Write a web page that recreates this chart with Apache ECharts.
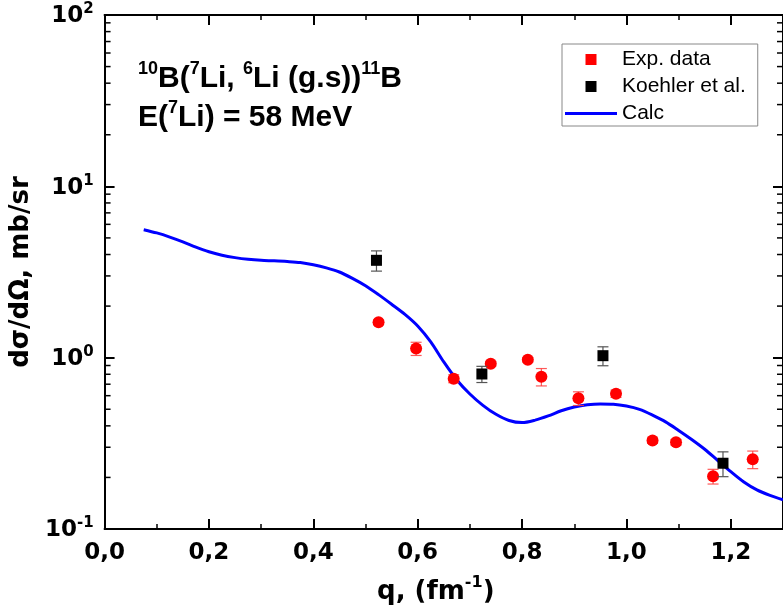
<!DOCTYPE html>
<html>
<head>
<meta charset="utf-8">
<script src="https://cdn.jsdelivr.net/npm/echarts@6/dist/echarts.min.js"></script>
<style>html,body{margin:0;padding:0;background:#fff;}#c{width:783px;height:613px;}</style>
</head>
<body>
<div id="c"></div>
<script>
// Exp. data (red circles)
const qExp = [0.525, 0.597, 0.669, 0.740, 0.811, 0.837, 0.908, 0.980, 1.050, 1.095, 1.166, 1.242];
const sigExp = [1.61, 1.13, 0.754, 0.922, 0.973, 0.774, 0.579, 0.616, 0.328, 0.321, 0.203, 0.255];
const errExp = [0.05, 0.10, 0.04, 0.03, 0.03, 0.09, 0.053, 0.03, 0.012, 0.012, 0.02, 0.03];
// Koehler et al. (black squares)
const qKoe = [0.521, 0.723, 0.955, 1.185];
const sigKoe = [3.70, 0.803, 1.027, 0.242];
const errKoe = [0.5, 0.087, 0.13, 0.04];
// Calc (blue line)
const qCalc = [0.075, 0.100, 0.125, 0.150, 0.175, 0.200, 0.225, 0.250, 0.275, 0.300, 0.325, 0.350, 0.375, 0.400,
  0.425, 0.450, 0.475, 0.500, 0.525, 0.550, 0.575, 0.600, 0.625, 0.650, 0.675, 0.700, 0.725, 0.750, 0.775, 0.800,
  0.825, 0.850, 0.875, 0.900, 0.925, 0.950, 0.975, 1.000, 1.025, 1.050, 1.075, 1.100, 1.125, 1.150, 1.175, 1.200,
  1.225, 1.250, 1.275, 1.300];
const sigCalc = [5.585, 5.346, 5.058, 4.742, 4.416, 4.150, 3.963, 3.837, 3.750, 3.698, 3.673, 3.639, 3.589, 3.483,
  3.342, 3.162, 2.904, 2.630, 2.333, 2.051, 1.795, 1.531, 1.236, 0.944, 0.741, 0.614, 0.527, 0.467, 0.430, 0.418,
  0.432, 0.457, 0.490, 0.515, 0.531, 0.537, 0.535, 0.522, 0.499, 0.462, 0.422, 0.376, 0.333, 0.292, 0.251, 0.216,
  0.188, 0.169, 0.157, 0.148];
// axis ranges and tick values
const X_MIN = 0, X_MAX = 1.3, X_STEP = 0.2;
const Y_MIN = 0.1, Y_MAX = 100;
const yMinorTicks = [0.2,0.3,0.4,0.5,0.6,0.7,0.8,0.9, 2,3,4,5,6,7,8,9, 20,30,40,50,60,70,80,90];

const chart = echarts.init(document.getElementById('c'), null, {renderer: 'canvas'});
const SQ = 'path://M0,0H10V10H0Z';
const LN = 'path://M0,0H52V3H0Z';
const tickFont = 'DejaVu Sans';

function errRender(color, capW) {
  return function (params, api) {
    const x = api.value(0), y = api.value(1), e = api.value(2);
    const lo = api.coord([x, y - e]), hi = api.coord([x, y + e]);
    const st = {stroke: color, lineWidth: 1.2};
    return {type: 'group', children: [
      {type: 'line', shape: {x1: lo[0], y1: lo[1], x2: hi[0], y2: hi[1]}, style: st},
      {type: 'line', shape: {x1: lo[0] - capW/2, y1: lo[1], x2: lo[0] + capW/2, y2: lo[1]}, style: st},
      {type: 'line', shape: {x1: hi[0] - capW/2, y1: hi[1], x2: hi[0] + capW/2, y2: hi[1]}, style: st}
    ]};
  };
}

function minorRender(params, api) {
  const v = api.value(1);
  const pL = api.coord([X_MIN, v]);
  const pR = api.coord([X_MAX, v]);
  const st = {stroke: '#000', lineWidth: 1.5};
  return {type: 'group', children: [
    {type: 'line', shape: {x1: pL[0], y1: pL[1], x2: pL[0] + 6, y2: pL[1]}, style: st},
    {type: 'line', shape: {x1: pR[0], y1: pR[1], x2: pR[0] - 6, y2: pR[1]}, style: st}
  ]};
}

const axisLineStyle = {color: '#000', width: 2};
const supRich = {
  b: {fontFamily: tickFont, fontWeight: 'bold', fontSize: 23, lineHeight: 26, verticalAlign: 'bottom', color: '#000'},
  s: {fontFamily: tickFont, fontWeight: 'bold', fontSize: 15, lineHeight: 12, verticalAlign: 'top', color: '#000'}
};
const nameRich = {
  b: {fontFamily: tickFont, fontWeight: 'bold', fontSize: 26, lineHeight: 30, verticalAlign: 'bottom', color: '#000'},
  s: {fontFamily: tickFont, fontWeight: 'bold', fontSize: 16, lineHeight: 14, verticalAlign: 'top', color: '#000'}
};
const titleRich = {
  b: {fontFamily: 'Liberation Sans', fontWeight: 'bold', fontSize: 30, lineHeight: 34, verticalAlign: 'bottom', fill: '#000'},
  s: {fontFamily: 'Liberation Sans', fontWeight: 'bold', fontSize: 18, lineHeight: 12, verticalAlign: 'top', fill: '#000'}
};

const option = {
  backgroundColor: '#fff',
  animation: false,
  grid: {left: 100, right: -7, top: 15, bottom: 84},
  legend: {
    orient: 'vertical', left: 562, top: 44,
    padding: [5, 12, 2, 3],
    itemWidth: 52, itemHeight: 11, itemGap: 6,
    borderColor: '#888', borderWidth: 1, backgroundColor: '#fff',
    textStyle: {fontFamily: 'Liberation Sans', fontSize: 21, lineHeight: 21, color: '#000'},
    data: [
      {name: 'Exp. data', icon: SQ},
      {name: 'Koehler et al.', icon: SQ},
      {name: 'Calc', icon: LN}
    ]
  },
  xAxis: [
    {
      type: 'value', min: X_MIN, max: X_MAX, interval: X_STEP,
      name: '{b|q, (fm}{s|-1}{b|)}', nameLocation: 'middle', nameGap: 46,
      nameTextStyle: {rich: nameRich, padding: [0, 16, 0, 0]},
      axisLine: {show: true, onZero: false, lineStyle: axisLineStyle},
      axisTick: {show: true, inside: true, length: 10, lineStyle: {width: 2, color: '#000'}},
      minorTick: {show: true, splitNumber: 2, length: 5, lineStyle: {width: 1.5, color: '#000'}},
      splitLine: {show: false},
      axisLabel: {
        margin: 13, showMaxLabel: false,
        fontFamily: tickFont, fontWeight: 'bold', fontSize: 23, color: '#000',
        formatter: v => v.toFixed(1).replace('.', ',')
      }
    },
    {
      type: 'value', position: 'top', min: X_MIN, max: X_MAX, interval: X_STEP,
      axisLine: {show: true, onZero: false, lineStyle: axisLineStyle},
      axisTick: {show: true, inside: true, length: 10, lineStyle: {width: 2, color: '#000'}},
      minorTick: {show: true, splitNumber: 2, length: 5, lineStyle: {width: 1.5, color: '#000'}},
      splitLine: {show: false},
      axisLabel: {show: false}
    }
  ],
  yAxis: [
    {
      type: 'log', logBase: 10, min: Y_MIN, max: Y_MAX,
      name: 'dσ/dΩ, mb/sr', nameLocation: 'middle', nameGap: 53,
      nameTextStyle: {fontFamily: tickFont, fontWeight: 'bold', fontSize: 26, color: '#000'},
      axisLine: {show: true, onZero: false, lineStyle: axisLineStyle},
      axisTick: {show: true, inside: true, length: 10, lineStyle: {width: 2, color: '#000'}},
      minorTick: {show: false},
      splitLine: {show: false},
      axisLabel: {
        margin: 11, rich: supRich,
        formatter: v => '{b|10}{s|' + Math.round(Math.log10(v)) + '}'
      }
    },
    {
      type: 'log', logBase: 10, min: Y_MIN, max: Y_MAX, position: 'right',
      axisLine: {show: true, onZero: false, lineStyle: axisLineStyle},
      axisTick: {show: true, inside: true, length: 10, lineStyle: {width: 2, color: '#000'}},
      minorTick: {show: false},
      splitLine: {show: false},
      axisLabel: {show: false}
    }
  ],
  series: [
    {
      name: 'minor', type: 'custom', silent: true, z: 1,
      data: yMinorTicks.map(v => [X_MIN, v]), encode: {x: 0, y: 1},
      renderItem: minorRender, clip: false
    },
    {
      name: 'Calc', type: 'line', smooth: 0.3, showSymbol: false, symbol: 'none',
      data: qCalc.map((q, i) => [q, sigCalc[i]]),
      lineStyle: {color: '#0000ff', width: 3}, itemStyle: {color: '#0000ff'}, z: 2
    },
    {
      name: 'expErr', type: 'custom', z: 3, silent: true,
      data: qExp.map((q, i) => [q, sigExp[i], errExp[i]]), encode: {x: 0, y: 1},
      renderItem: errRender('rgba(255,60,60,0.85)', 11)
    },
    {
      name: 'Exp. data', type: 'scatter', symbol: 'circle', symbolSize: 12,
      data: qExp.map((q, i) => [q, sigExp[i]]),
      itemStyle: {color: '#ff0000', opacity: 1}, z: 4
    },
    {
      name: 'koeErr', type: 'custom', z: 5, silent: true,
      data: qKoe.map((q, i) => [q, sigKoe[i], errKoe[i]]), encode: {x: 0, y: 1},
      renderItem: errRender('#555555', 11)
    },
    {
      name: 'Koehler et al.', type: 'scatter', symbol: 'rect', symbolSize: 11,
      data: qKoe.map((q, i) => [q, sigKoe[i]]),
      itemStyle: {color: '#000000', opacity: 1}, z: 6
    }
  ],
  graphic: [
    {type: 'text', left: 138, top: 60, z: 10,
     style: {text: '{s|10}{b|B(}{s|7}{b|Li, }{s|6}{b|Li (g.s))}{s|11}{b|B}', rich: titleRich}},
    {type: 'text', left: 138, top: 99, z: 10,
     style: {text: '{b|E(}{s|7}{b|Li) = 58 MeV}', rich: titleRich}}
  ]
};
chart.setOption(option);
</script>
</body>
</html>
